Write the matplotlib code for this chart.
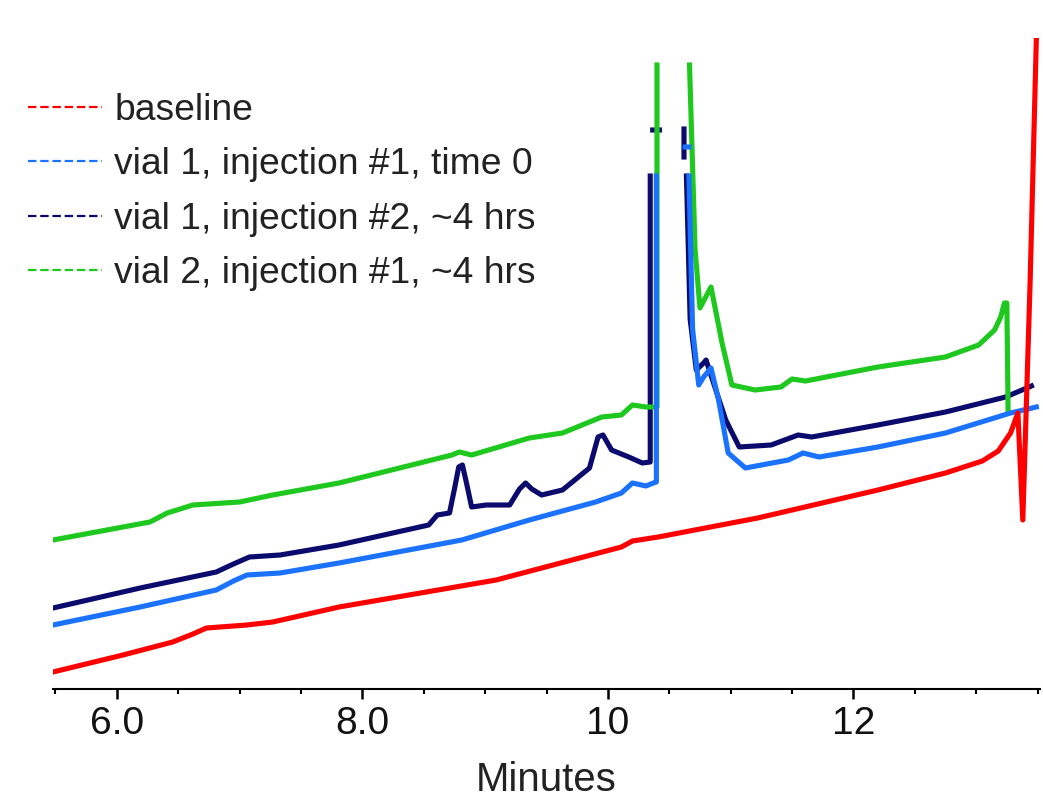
import numpy as np
import matplotlib
matplotlib.use('Agg')
import matplotlib.pyplot as plt
from matplotlib.lines import Line2D
from matplotlib.ticker import MultipleLocator, FixedLocator

plt.rcParams['font.family'] = ['Liberation Sans', 'DejaVu Sans']

# chromatogram traces (time in min, signal in arbitrary units)
# nan = part of the main peak that is cut away in the original
baseline_t = [5.48, 6.05, 6.455, 6.62, 6.73, 7.06, 7.27, 7.81, 9.09, 10.11, 10.20, 10.41,
              11.22, 12.20, 12.75, 13.05, 13.18, 13.28, 13.34, 13.38, 13.44, 13.49, 13.52]
baseline_s = [17, 34, 47, 55, 61, 64, 67, 82, 109, 142, 148, 152,
              171, 199, 216, 228, 238, 256, 276, 169, 409, 649, 720]

vial1_inj1_t = [5.48, 6.19, 6.81, 6.95, 7.06, 7.33, 7.81, 8.81, 9.36, 9.90, 10.11, 10.20,
                10.31, 10.37, 10.395, 10.395, np.nan, 10.66, 10.69, 10.74, 10.78, 10.84,
                10.90, 10.98, 11.12, 11.47, 11.59, 11.72, 12.20, 12.75, 13.28, 13.49,
                np.nan, 10.63, 10.66]
vial1_inj1_s = [64, 82, 99, 108, 114, 116, 126, 149, 169, 187, 196, 206,
                203, 206, 207, 513, np.nan, 513, 360, 304, 312, 321,
                290, 236, 221, 229, 236, 232, 242, 256, 276, 282,
                np.nan, 542, 542]

vial1_inj2_t = [5.48, 6.19, 6.81, 6.95, 7.08, 7.33, 7.81, 8.54, 8.61, 8.71, 8.75, 8.785,
                8.815, 8.85, 8.89, 9.01, 9.20, 9.28, 9.33, 9.38, 9.46, 9.63, 9.85, 9.92,
                9.96, 10.03, 10.17, 10.28, 10.345, 10.345, np.nan, 10.64, 10.67, 10.72,
                10.78, 10.80, 10.85, 10.96, 11.07, 11.33, 11.55, 11.66, 12.20, 12.75, 13.24,
                13.45, np.nan, 10.365, 10.42, np.nan, 10.62, 10.62]
vial1_inj2_s = [81, 101, 117, 125, 132, 134, 144, 164, 174, 176, 200, 222,
                224, 205, 182, 184, 184, 200, 206, 200, 194, 199, 221, 252,
                254, 239, 232, 226, 227, 513, np.nan, 513, 370, 319,
                326, 329, 310, 269, 242, 244, 254, 252, 264, 277, 292,
                303, np.nan, 559, 559, np.nan, 560, 532]

vial2_inj1_t = [5.48, 6.27, 6.41, 6.62, 7.00, 7.27, 7.81, 8.73, 8.79, 8.89, 9.36,
                9.63, 9.95, 10.11, 10.20, 10.31, 10.39, 10.40, 10.40, np.nan, 10.665, 10.71,
                10.75, 10.84, 10.93, 11.01, 11.20, 11.41, 11.50, 11.61, 12.20, 12.75, 13.02,
                13.15, 13.20, 13.23, 13.25, 13.26]
vial2_inj1_s = [149, 167, 176, 184, 187, 194, 206, 234, 237, 234, 251,
                256, 272, 274, 284, 282, 282, 282, 624, np.nan, 624, 440,
                381, 402, 346, 304, 299, 302, 310, 308, 322, 332, 344,
                359, 372, 386, 386, 279]

labels = ['baseline', 'vial 1, injection #1, time 0',
          'vial 1, injection #2, ~4 hrs', 'vial 2, injection #1, ~4 hrs']
colors = ['#ff0000', '#1a72ff', '#0b0b6e', '#1ec81e']

fig = plt.figure(figsize=(10.43, 7.99), dpi=100)
ax = fig.add_axes([53 / 1043, 110 / 799, 987 / 1043, 651 / 799])

# draw order: navy, green, blue, red on top
lw = 3.7
ax.plot(vial1_inj2_t, vial1_inj2_s, color=colors[2], lw=lw, zorder=2)
ax.plot(vial2_inj1_t, vial2_inj1_s, color=colors[3], lw=lw, zorder=3)
ax.plot(vial1_inj1_t, vial1_inj1_s, color=colors[1], lw=lw, zorder=4)
ax.plot(baseline_t, baseline_s, color=colors[0], lw=lw, zorder=5)

ax.set_xlim(5.48, 13.52)
ax.set_ylim(0, 651)

for side in ['left', 'right', 'top']:
    ax.spines[side].set_visible(False)
ax.spines['bottom'].set_linewidth(1.5)
ax.yaxis.set_visible(False)

ax.xaxis.set_major_locator(FixedLocator([6, 8, 10, 12]))
ax.set_xticklabels(['6.0', '8.0', '10', '12'])
ax.xaxis.set_minor_locator(MultipleLocator(0.5))
ax.tick_params(axis='x', which='major', direction='out', length=7, width=1.8,
               pad=5, labelsize=28, labelcolor='#111111')
ax.tick_params(axis='x', which='minor', direction='out', length=3.5, width=1.5)
ax.set_xlabel('Minutes', fontsize=29, color='#222222', labelpad=14)

handles = [Line2D([0], [0], color=c, lw=1.6, linestyle=(0, (3.8, 1.7))) for c in colors]
leg = fig.legend(handles, labels, loc='upper left', bbox_to_anchor=(28 / 1043, 1 - 93 / 799),
                 frameon=False, fontsize=26.8, handlelength=2.0, handletextpad=0.32,
                 labelspacing=0.52, borderpad=0, borderaxespad=0)
for txt in leg.get_texts():
    txt.set_color('#222222')

fig.savefig('out.png', dpi=100)
